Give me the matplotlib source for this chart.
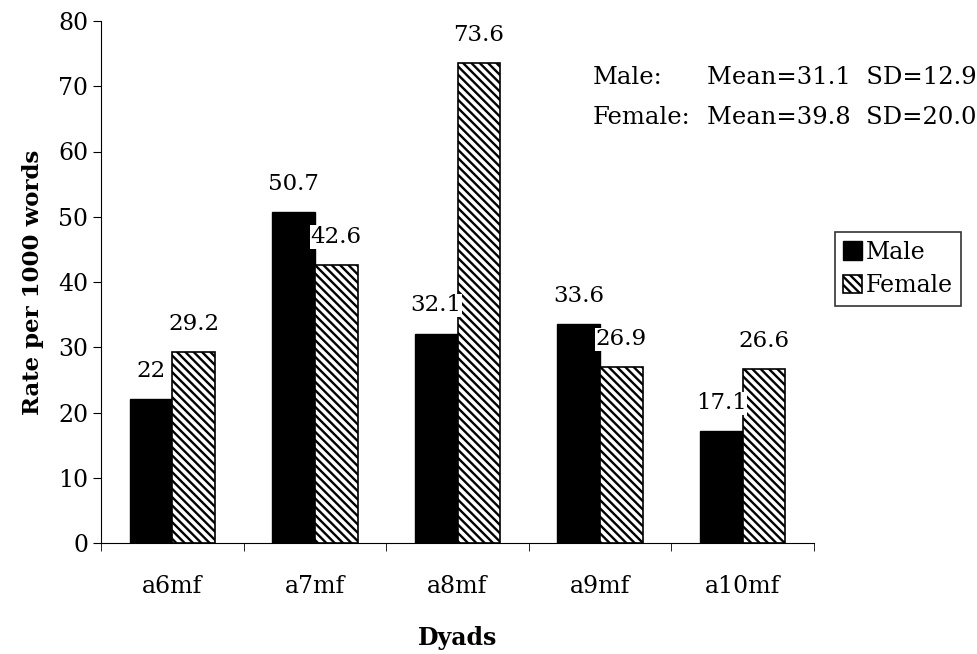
import numpy as np
import matplotlib.pyplot as plt

plt.rcParams['font.family'] = ['DejaVu Serif']
plt.rcParams['hatch.linewidth'] = 1.7

# Data
dyads = ['a6mf', 'a7mf', 'a8mf', 'a9mf', 'a10mf']
male = [22, 50.7, 32.1, 33.6, 17.1]
female = [29.2, 42.6, 73.6, 26.9, 26.6]
male_labels = ['22', '50.7', '32.1', '33.6', '17.1']
female_labels = ['29.2', '42.6', '73.6', '26.9', '26.6']

fig = plt.figure(figsize=(9.78, 6.54), dpi=100)
ax = fig.add_axes([101 / 978, 1 - 543 / 654, 713 / 978, 522 / 654])

x = np.arange(len(dyads))
w = 0.30
ax.bar(x - w / 2, male, w, color='black', edgecolor='black', label='Male', zorder=2)
ax.bar(x + w / 2, female, w, color='white', edgecolor='black',
       hatch='\\' * 4, linewidth=1.2, label='Female', zorder=2)

for xi, v, s in zip(x, male, male_labels):
    ax.text(xi - w / 2, v + 4.3, s, ha='center', va='center', fontsize=16.5, zorder=3,
            bbox=dict(facecolor='white', edgecolor='none', pad=0.5))
for xi, v, s in zip(x, female, female_labels):
    ax.text(xi + w / 2, v + 4.3, s, ha='center', va='center', fontsize=16.5, zorder=3,
            bbox=dict(facecolor='white', edgecolor='none', pad=0.5))

ax.set_xlim(-0.5, len(dyads) - 0.5)
ax.set_ylim(0, 80)
ax.set_yticks(range(0, 81, 10))
ax.set_xticks(x)
ax.set_xticklabels(dyads, fontsize=17)
ax.set_xticks(np.arange(-0.5, len(dyads), 1), minor=True)
ax.tick_params(axis='x', which='major', length=0, pad=23)
ax.tick_params(axis='x', which='minor', length=6, direction='out')
ax.tick_params(axis='y', labelsize=17, length=6, direction='out', pad=3)
for s in ['top', 'right']:
    ax.spines[s].set_visible(False)

ax.set_ylabel('Rate per 1000 words', fontsize=16.5, fontweight='bold', labelpad=10)
ax.set_xlabel('Dyads', fontsize=17, fontweight='bold', labelpad=20)

fig.text(593 / 978, 1 - 78 / 654, 'Male:', fontsize=17.5, va='center')
fig.text(707 / 978, 1 - 78 / 654, 'Mean=31.1  SD=12.9', fontsize=17.5, va='center')
fig.text(593 / 978, 1 - 117 / 654, 'Female:', fontsize=17.5, va='center')
fig.text(707 / 978, 1 - 117 / 654, 'Mean=39.8  SD=20.0', fontsize=17.5, va='center')

leg = ax.legend(loc='center left', bbox_to_anchor=(835 / 978, 1 - 269 / 654),
                bbox_transform=fig.transFigure,
                fontsize=17, frameon=True, fancybox=False, edgecolor='black',
                handlelength=0.8, handleheight=0.8, handletextpad=0.15,
                borderpad=0.35, labelspacing=0.45, borderaxespad=0)
leg.get_frame().set_linewidth(1.2)

fig.savefig('out.png', dpi=100)
